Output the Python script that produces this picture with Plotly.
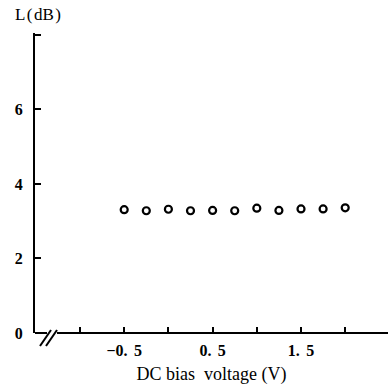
import plotly.graph_objects as go

# Data
bias_voltage = [-0.5, -0.25, 0.0, 0.25, 0.5, 0.75, 1.0, 1.25, 1.5, 1.75, 2.0]
loss_db = [3.31, 3.28, 3.32, 3.28, 3.29, 3.28, 3.35, 3.29, 3.33, 3.33, 3.36]

x_tickvals = [-1.0, -0.5, 0.0, 0.5, 1.0, 1.5, 2.0]
x_ticktext = ["", "\u22120.\u2009\u20095", "", "0.\u2009\u20095", "", "1.\u2009\u20095", ""]
y_tickvals = [0, 2, 4, 6, 8]
y_ticktext = ["0", "2", "4", "6", ""]

W, H = 388, 386
ML, MR, MT, MB = 35, 0, 33, 53
PW, PH = W - ML - MR, H - MT - MB

FONT = "Liberation Serif"

fig = go.Figure()
fig.add_trace(go.Scatter(
    x=bias_voltage, y=loss_db, mode="markers",
    marker=dict(symbol="circle-open", size=7, color="black",
                line=dict(width=2.2, color="black")),
    cliponaxis=False, showlegend=False,
))

def px2paper(px, py):
    return (px - ML) / PW, (H - MB - py) / PH

shapes = []
# x axis line with break
for (a, b) in [((35, 333), (47, 333)), ((57, 333), (388, 333))]:
    x0, y0 = px2paper(*a)
    x1, y1 = px2paper(*b)
    shapes.append(dict(type="line", xref="paper", yref="paper",
                       x0=x0, y0=y0, x1=x1, y1=y1,
                       line=dict(color="black", width=2)))
for (a, b) in [((40, 346), (51, 330)), ((46, 346), (57, 330))]:
    x0, y0 = px2paper(*a)
    x1, y1 = px2paper(*b)
    shapes.append(dict(type="line", xref="paper", yref="paper",
                       x0=x0, y0=y0, x1=x1, y1=y1,
                       line=dict(color="black", width=2)))

fig.update_layout(
    width=W, height=H,
    margin=dict(l=ML, r=MR, t=MT, b=MB, pad=0),
    paper_bgcolor="white", plot_bgcolor="white",
    font=dict(family=FONT, color="black", size=14),
    shapes=shapes,
    annotations=[dict(text="L\u200a(\u200adB\u200a)", xref="paper", yref="paper",
                      x=px2paper(38, 0)[0], y=px2paper(0, 15)[1],
                      xanchor="center", yanchor="middle", showarrow=False,
                      font=dict(family=FONT, size=17, color="black"))],
)
fig.update_xaxes(
    range=[-1.509, 2.484], showgrid=False, zeroline=False, showline=False,
    tickmode="array", tickvals=x_tickvals, ticktext=x_ticktext,
    ticks="inside", ticklen=6, tickwidth=2, tickcolor="black",
    ticklabelstandoff=6, tickfont=dict(family=FONT, size=16, color="black", weight="bold"),
    title=dict(text="DC bias\u00a0 voltage (V)", standoff=9,
               font=dict(family=FONT, size=18, color="black")),
)
fig.update_yaxes(
    range=[0, 8.05], showgrid=False, zeroline=False,
    showline=True, linecolor="black", linewidth=2,
    tickmode="array", tickvals=y_tickvals, ticktext=y_ticktext,
    ticks="inside", ticklen=6, tickwidth=2, tickcolor="black",
    ticklabelstandoff=7, tickfont=dict(family=FONT, size=16, color="black", weight="bold"),
)

fig.write_html("out.html")
